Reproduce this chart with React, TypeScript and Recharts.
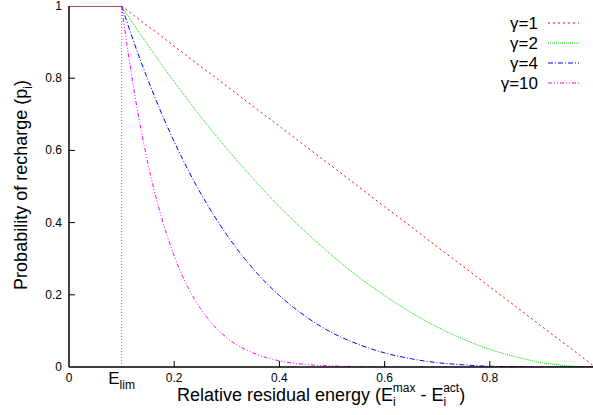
import React from "react";
import { LineChart, Line, XAxis, YAxis, ReferenceLine } from "recharts";

// energy levels (x axis)
const X = [
  0, 0.1, 0.1125, 0.125, 0.1375, 0.15, 0.1625, 0.175, 0.1875, 0.2, 0.2125, 0.225, 0.2375,
  0.25, 0.2625, 0.275, 0.2875, 0.3, 0.35, 0.4, 0.45, 0.5, 0.55, 0.6, 0.65, 0.7, 0.75, 0.8,
  0.85, 0.9, 0.95, 1.0,
];

// flat part before E_lim (all curves at 1)
const FLAT = [1, 1];

const G1 = [
  null, 1, 0.986, 0.972, 0.958, 0.944, 0.931, 0.917, 0.903, 0.889, 0.875, 0.861, 0.847,
  0.833, 0.819, 0.806, 0.792, 0.778, 0.722, 0.667, 0.611, 0.556, 0.5, 0.444, 0.389, 0.333,
  0.278, 0.222, 0.167, 0.111, 0.056, 0,
];
const G2 = [
  null, 1, 0.972, 0.945, 0.918, 0.892, 0.866, 0.84, 0.815, 0.79, 0.766, 0.742, 0.718,
  0.694, 0.671, 0.649, 0.627, 0.605, 0.522, 0.444, 0.374, 0.309, 0.25, 0.198, 0.151, 0.111,
  0.077, 0.049, 0.028, 0.012, 0.003, 0,
];
const G4 = [
  null, 1, 0.946, 0.893, 0.843, 0.796, 0.75, 0.706, 0.664, 0.624, 0.586, 0.55, 0.515,
  0.482, 0.451, 0.421, 0.393, 0.366, 0.272, 0.198, 0.14, 0.095, 0.063, 0.039, 0.023, 0.012,
  0.006, 0.002, 0.001, 0, 0, 0,
];
const G10 = [
  null, 1, 0.87, 0.755, 0.653, 0.564, 0.487, 0.419, 0.36, 0.308, 0.263, 0.224, 0.191,
  0.162, 0.137, 0.115, 0.097, 0.081, 0.039, 0.017, 0.007, 0.003, 0.001, 0, 0, 0, 0, 0, 0,
  0, 0, 0,
];

const ELIM = 0.1;
const X_TICKS = [0, 0.1, 0.2, 0.4, 0.6, 0.8, 1];
const Y_TICKS = [0, 0.2, 0.4, 0.6, 0.8, 1];

const SERIES = [
  { key: "g1", name: "γ=1", values: G1, color: "#ff0000", dash: "2 3" },
  { key: "g2", name: "γ=2", values: G2, color: "#00e000", dash: "1 1" },
  { key: "g4", name: "γ=4", values: G4, color: "#0000ff", dash: "5 2 1 2" },
  { key: "g10", name: "γ=10", values: G10, color: "#ff00ff", dash: "4 2 1 2 1 2" },
];

const data = X.map((x, i) => {
  const row: Record<string, number | null> = { x, flat: i < FLAT.length ? FLAT[i] : null };
  SERIES.forEach((s) => {
    row[s.key] = s.values[i];
  });
  return row;
});

const FONT = "'Liberation Sans', Arial, Helvetica, sans-serif";

const fmt = (v: number) => (v === 0 || v === 1 ? String(v) : v.toFixed(1));

const BottomTick = (props: any) => {
  const { x, y, payload } = props;
  const v = payload.value;
  if (v === ELIM) {
    return (
      <text x={x} y={y + 17} textAnchor="middle" fontFamily={FONT} fontSize={17} fill="#000">
        E<tspan fontSize={12} dy={5}>lim</tspan>
      </text>
    );
  }
  if (v === 1) return <g />;
  return (
    <g>
      {v > 0 && <line x1={x} y1={y} x2={x} y2={y - 6} stroke="#000" />}
      <text x={x} y={y + 15} textAnchor="middle" fontFamily={FONT} fontSize={12} fill="#000">
        {fmt(v)}
      </text>
    </g>
  );
};

const TopTick = (props: any) => {
  const { x, y, payload } = props;
  const v = payload.value;
  if (v === ELIM || v === 0 || v === 1) return <g />;
  return <line x1={x} y1={y} x2={x} y2={y + 6} stroke="#000" />;
};

const LeftTick = (props: any) => {
  const { x, y, payload } = props;
  const v = payload.value;
  return (
    <g>
      {v > 0 && v < 1 && <line x1={x} y1={y} x2={x + 6} y2={y} stroke="#000" />}
      <text x={x - 7} y={y + 4} textAnchor="end" fontFamily={FONT} fontSize={12} fill="#000">
        {fmt(v)}
      </text>
    </g>
  );
};

const RightTick = (props: any) => {
  const { x, y, payload } = props;
  const v = payload.value;
  if (v === 0 || v === 1) return <g />;
  return <line x1={x} y1={y} x2={x - 6} y2={y} stroke="#000" />;
};

export default function App() {
  return (
    <div style={{ position: "fixed", left: 0, top: 0, width: 593, height: 415, overflow: "hidden", background: "#fff" }}>
      <LineChart width={595} height={415} data={data} margin={{ top: 6, right: 0, left: 0, bottom: 0 }}>
        <XAxis
          dataKey="x"
          type="number"
          domain={[0, 1]}
          ticks={X_TICKS}
          interval={0}
          height={48}
          tickSize={0}
          tickMargin={0}
          tickLine={false}
          axisLine={{ stroke: "#000", strokeWidth: 1.5 }}
          tick={<BottomTick />}
          allowDataOverflow
        />
        <XAxis
          xAxisId="top"
          orientation="top"
          dataKey="x"
          type="number"
          domain={[0, 1]}
          ticks={X_TICKS}
          interval={0}
          height={0}
          tickSize={0}
          tickMargin={0}
          tickLine={false}
          axisLine={{ stroke: "#000", strokeWidth: 1 }}
          tick={<TopTick />}
          allowDataOverflow
        />
        <YAxis
          type="number"
          domain={[0, 1]}
          ticks={Y_TICKS}
          interval={0}
          width={69}
          tickSize={0}
          tickMargin={0}
          tickLine={false}
          axisLine={{ stroke: "#000", strokeWidth: 1.5 }}
          tick={<LeftTick />}
          allowDataOverflow
        />
        <YAxis
          yAxisId="right"
          orientation="right"
          type="number"
          domain={[0, 1]}
          ticks={Y_TICKS}
          interval={0}
          width={0}
          tickSize={0}
          tickMargin={0}
          tickLine={false}
          axisLine={{ stroke: "#000" }}
          tick={<RightTick />}
          allowDataOverflow
        />
        <ReferenceLine x={ELIM} stroke="#888" strokeDasharray="1 2" />
        {SERIES.map((s) => (
          <Line
            key={s.key}
            dataKey={s.key}
            type="monotone"
            stroke={s.color}
            strokeWidth={1}
            strokeDasharray={s.dash}
            dot={false}
            isAnimationActive={false}
          />
        ))}
        <Line
          dataKey="flat"
          type="linear"
          stroke="#a01818"
          strokeWidth={1.5}
          dot={false}
          isAnimationActive={false}
        />
      </LineChart>
      <svg
        width={593}
        height={415}
        style={{ position: "absolute", left: 0, top: 0, pointerEvents: "none" }}
        fontFamily={FONT}
      >
        <text transform="translate(27,185) rotate(-90)" textAnchor="middle" fontSize={18} fill="#000">
          Probability of recharge (p<tspan fontSize={12} dy={5}>i</tspan>
          <tspan dy={-5}>)</tspan>
        </text>
        <text x={177} y={401} fontSize={18} fill="#000">
          Relative residual energy (E<tspan fontSize={12} dy={5}>i</tspan>
          <tspan fontSize={12} dx={-3} dy={-14}>max</tspan>
          <tspan dy={9}> - E</tspan>
          <tspan fontSize={12} dy={5}>i</tspan>
          <tspan fontSize={12} dx={-3} dy={-14}>act</tspan>
          <tspan dy={9}>)</tspan>
        </text>
        {SERIES.map((s, i) => (
          <g key={s.key}>
            <text x={538} y={29 + i * 20} textAnchor="end" fontSize={17} fill="#000">
              {s.name}
            </text>
            <line
              x1={548}
              x2={579}
              y1={23 + i * 20}
              y2={23 + i * 20}
              stroke={s.color}
              strokeDasharray={s.dash}
            />
          </g>
        ))}
      </svg>
    </div>
  );
}
